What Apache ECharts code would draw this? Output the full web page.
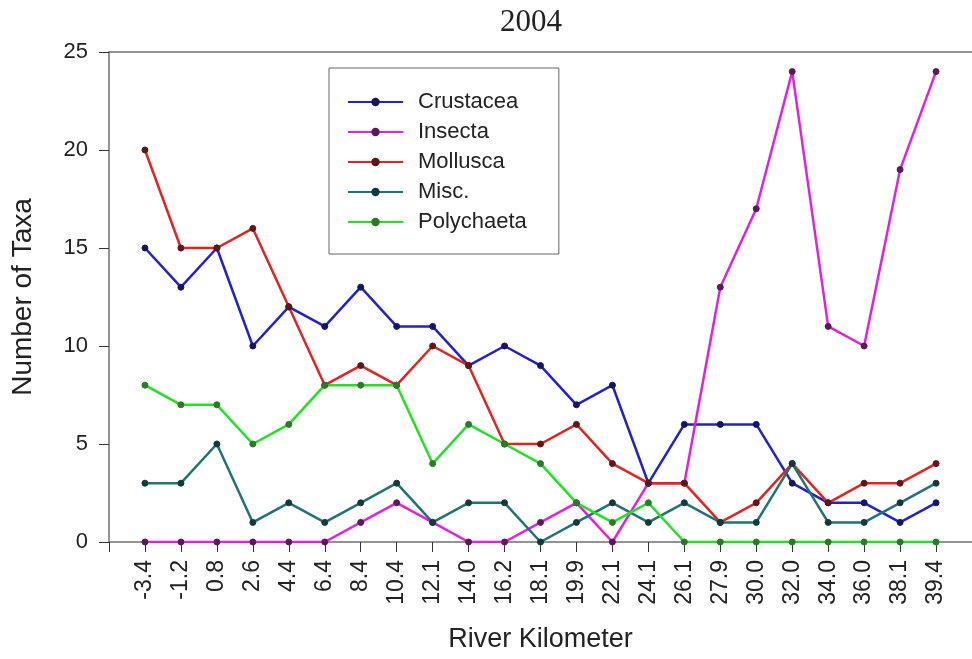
<!DOCTYPE html>
<html>
<head>
<meta charset="utf-8">
<script src="https://cdn.jsdelivr.net/npm/echarts@6/dist/echarts.min.js"></script>
<style>
html,body{margin:0;padding:0;background:#fff;}
#chart{width:972px;height:659px;}
</style>
</head>
<body>
<div id="chart"></div>
<script>
const categories = ['-3.4','-1.2','0.8','2.6','4.4','6.4','8.4','10.4','12.1','14.0','16.2','18.1','19.9','22.1','24.1','26.1','27.9','30.0','32.0','34.0','36.0','38.1','39.4'];
const crustacea  = [15,13,15,10,12,11,13,11,11,9,10,9,7,8,3,6,6,6,3,2,2,1,2];
const insecta    = [0,0,0,0,0,0,1,2,1,0,0,1,2,0,3,3,13,17,24,11,10,19,24];
const mollusca   = [20,15,15,16,12,8,9,8,10,9,5,5,6,4,3,3,1,2,4,2,3,3,4];
const misc       = [3,3,5,1,2,1,2,3,1,2,2,0,1,2,1,2,1,1,4,1,1,2,3];
const polychaeta = [8,7,7,5,6,8,8,8,4,6,5,4,2,1,2,0,0,0,0,0,0,0,0];
const yTicks = [0,5,10,15,20,25];

const seriesDefs = [
  {name:'Crustacea', values:crustacea, line:'#2222cc', dot:'#151560'},
  {name:'Insecta', values:insecta, line:'#e022e0', dot:'#5a1a5a'},
  {name:'Mollusca', values:mollusca, line:'#e02424', dot:'#5a1818'},
  {name:'Misc.', values:misc, line:'#217373', dot:'#123a3a'},
  {name:'Polychaeta', values:polychaeta, line:'#22e022', dot:'#2a7a2a'}
];

const axisColor = '#707070';
const chart = echarts.init(document.getElementById('chart'), null, {renderer:'canvas'});
chart.setOption({
  backgroundColor:'#fff',
  animation:false,
  title:{
    text:'2004', left:495, top:2,
    textStyle:{fontFamily:'Liberation Serif', fontSize:31, fontWeight:'normal', color:'#222'}
  },
  legend:{
    orient:'vertical', left:329, top:68,
    padding:[23,32,21,18],
    borderColor:'#666', borderWidth:1,
    itemWidth:55, itemHeight:8, itemGap:8,
    textStyle:{fontFamily:'Liberation Sans', fontSize:22, color:'#222', lineHeight:20, padding:[0,0,0,10]},
    data:seriesDefs.map(s=>s.name)
  },
  grid:{left:109, right:-3, top:52, bottom:117, containLabel:false},
  xAxis:[{
    type:'value', min:-1, max:23, interval:1,
    name:'River Kilometer', nameLocation:'middle', nameGap:84,
    nameTextStyle:{fontFamily:'Liberation Sans', fontSize:27, color:'#222'},
    axisLine:{show:true, onZero:false, lineStyle:{color:axisColor, width:1.5}},
    axisTick:{show:true, length:10, lineStyle:{color:'#333', width:1}},
    axisLabel:{rotate:90, margin:18, fontFamily:'Liberation Sans', fontSize:23, color:'#222',
      showMinLabel:true, showMaxLabel:true,
      formatter:function(v){ return (Number.isInteger(v) && v>=0 && v<categories.length) ? categories[v] : ''; }},
    splitLine:{show:false}
  },{
    type:'value', position:'top', min:-1, max:23, interval:1,
    axisLine:{show:true, onZero:false, lineStyle:{color:axisColor, width:1.5}},
    axisTick:{show:false}, axisLabel:{show:false}, splitLine:{show:false}
  }],
  yAxis:{
    type:'value', min:0, max:25, interval:5,
    name:'Number of Taxa', nameLocation:'middle', nameGap:72, nameRotate:90,
    nameTextStyle:{fontFamily:'Liberation Sans', fontSize:28, color:'#222'},
    axisLine:{show:true, onZero:false, lineStyle:{color:axisColor, width:1.5}},
    axisTick:{show:true, length:10, lineStyle:{color:'#333', width:1}},
    axisLabel:{margin:21, fontFamily:'Liberation Sans', fontSize:22, color:'#222',
      formatter:function(v){ return yTicks.indexOf(v)>=0 ? String(v) : ''; }},
    splitLine:{show:false}
  },
  series:seriesDefs.map(s=>({
    name:s.name, type:'line',
    data:s.values.map((v,i)=>[i,v]),
    symbol:'circle', symbolSize:6,
    lineStyle:{color:s.line, width:2.5},
    itemStyle:{color:s.dot, borderColor:s.dot, borderWidth:1},
    emphasis:{disabled:true}
  }))
});
</script>
</body>
</html>
